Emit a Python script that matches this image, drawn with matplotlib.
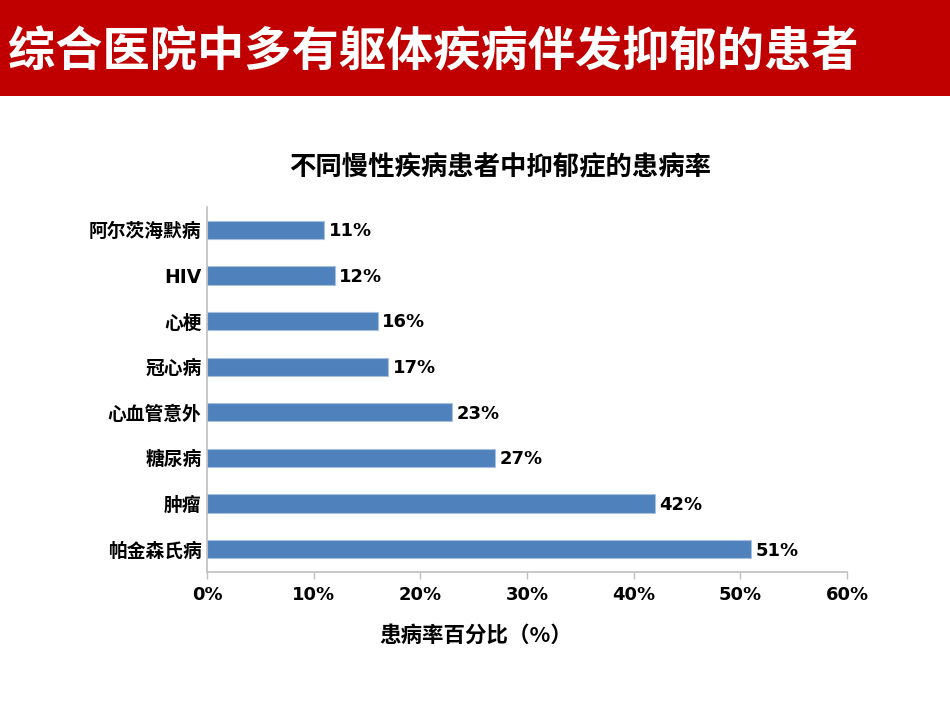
import matplotlib
matplotlib.use('Agg')
import matplotlib.pyplot as plt
from matplotlib.patches import Rectangle
from matplotlib.ticker import FuncFormatter

plt.rcParams['font.family'] = ['DejaVu Sans', 'Noto Sans CJK SC']

# data
diseases = ['阿尔茨海默病', 'HIV', '心梗', '冠心病', '心血管意外', '糖尿病', '肿瘤', '帕金森氏病']
rates = [11, 12, 16, 17, 23, 27, 42, 51]
x_ticks = [0, 10, 20, 30, 40, 50, 60]

banner_title = '综合医院中多有躯体疾病伴发抑郁的患者'
chart_title = '不同慢性疾病患者中抑郁症的患病率'
x_label = '患病率百分比（%）'

fig = plt.figure(figsize=(9.5, 7.13), dpi=100)

# red banner on top
fig.patches.append(Rectangle((0, 1 - 96 / 713), 1, 96 / 713, transform=fig.transFigure,
                             facecolor='#C00000', edgecolor='none', zorder=0))
fig.text(8 / 950, 1 - 52 / 713, banner_title, color='white', fontsize=34, fontweight='bold',
         family=['Noto Sans CJK SC'], va='center', ha='left')

ax = fig.add_axes([207 / 950, 1 - 572 / 713, 640 / 950, 365 / 713])
pos = list(range(len(diseases)))
bars = ax.barh(pos, rates, height=0.4, color='#4F81BD', edgecolor='#A7C0DE', linewidth=0.8)
for p, r in zip(pos, rates):
  ax.text(r + 0.4, p + 0.03, f'{r}%', va='center', ha='left', fontsize=13, fontweight='bold')

ax.set_ylim(len(diseases) - 0.5, -0.5)
ax.set_xlim(0, 60)
ax.set_yticks(pos)
ax.set_yticklabels(diseases, fontsize=13.5, fontweight='bold')
ax.set_xticks(x_ticks)
ax.xaxis.set_major_formatter(FuncFormatter(lambda v, _: f'{v:.0f}%'))
for lbl in ax.get_xticklabels():
  lbl.set_fontsize(13)
  lbl.set_fontweight('bold')
ax.tick_params(axis='y', length=0, pad=4)
ax.tick_params(axis='x', length=5, color='#BFBFBF', width=1, pad=5)
for s in ['top', 'right']:
  ax.spines[s].set_visible(False)
for s in ['left', 'bottom']:
  ax.spines[s].set_color('#BFBFBF')
  ax.spines[s].set_linewidth(1.2)

fig.text(500 / 950, 1 - 168 / 713, chart_title, fontsize=19, fontweight='bold',
         ha='center', va='center')
fig.text(476 / 950, 1 - 635 / 713, x_label, fontsize=15.5, fontweight='bold',
         family=['Noto Sans CJK SC'], ha='center', va='center')

fig.savefig('out.png', dpi=100)
